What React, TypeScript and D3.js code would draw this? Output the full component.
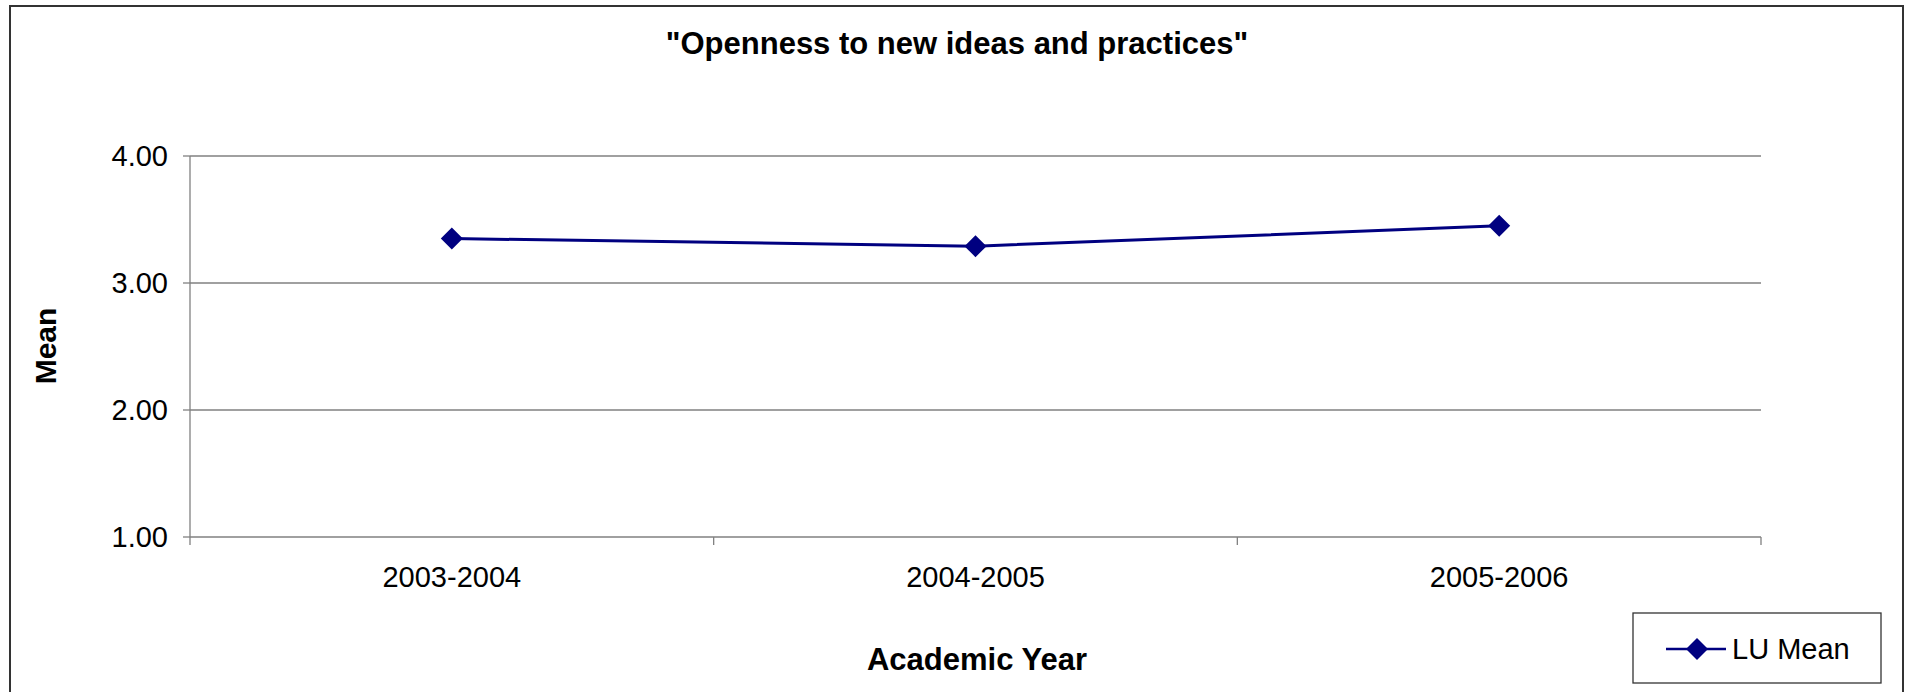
import React from "react";
import * as d3 from "d3";

const categories = ["2003-2004", "2004-2005", "2005-2006"];
const luMean = [3.35, 3.29, 3.45];
const yTicks = [1, 2, 3, 4];
const title = "\"Openness to new ideas and practices\"";
const xTitle = "Academic Year";
const yTitle = "Mean";
const seriesName = "LU Mean";

export default function App() {
  const W = 1913, H = 692;
  const left = 190, right = 1761, top = 156, bottom = 537;
  const x = d3.scaleBand<string>().domain(categories).range([left, right]);
  const y = d3.scaleLinear().domain([1, 4]).range([bottom, top]);
  const line = d3.line<number>()
    .x((_, i) => (x(categories[i]) as number) + x.bandwidth() / 2)
    .y((d) => y(d));
  const font = "'Liberation Sans', Arial, sans-serif";
  const navy = "#000080";
  const diamond = (cx: number, cy: number, r: number) =>
    `M${cx},${cy - r}L${cx + r},${cy}L${cx},${cy + r}L${cx - r},${cy}Z`;
  const boundaries = [...categories.map((c) => x(c) as number), right];
  return (
    <svg width={W} height={H} style={{ position: "absolute", left: 0, top: 0 }} fontFamily={font}>
      <rect x={0} y={0} width={W} height={H} fill="#fff" />
      <rect x={10} y={6} width={1893} height={720} fill="none" stroke="#333" strokeWidth={2} />
      <text x={957} y={54} textAnchor="middle" fontSize={31} fontWeight="bold">{title}</text>
      {yTicks.map((t) => (
        <g key={t}>
          <line x1={left} x2={right} y1={y(t)} y2={y(t)} stroke="#808080" strokeWidth={1.3} />
          <line x1={left - 7} x2={left} y1={y(t)} y2={y(t)} stroke="#808080" strokeWidth={1.3} />
          <text x={168} y={y(t) + 10} textAnchor="end" fontSize={29}>{t.toFixed(2)}</text>
        </g>
      ))}
      <line x1={left} x2={left} y1={top} y2={bottom} stroke="#808080" strokeWidth={1.3} />
      {boundaries.map((b, i) => (
        <line key={i} x1={b} x2={b} y1={bottom} y2={bottom + 8} stroke="#808080" strokeWidth={1.3} />
      ))}
      {categories.map((c) => (
        <text key={c} x={(x(c) as number) + x.bandwidth() / 2} y={587} textAnchor="middle" fontSize={29}>{c}</text>
      ))}
      <text x={977} y={670} textAnchor="middle" fontSize={31} fontWeight="bold">{xTitle}</text>
      <text transform={`translate(56,346) rotate(-90)`} textAnchor="middle" fontSize={30} fontWeight="bold">{yTitle}</text>
      <path d={line(luMean) || ""} fill="none" stroke={navy} strokeWidth={3} />
      {luMean.map((v, i) => (
        <path key={i} d={diamond((x(categories[i]) as number) + x.bandwidth() / 2, y(v), 11)} fill={navy} />
      ))}
      <rect x={1633} y={613} width={248} height={70} fill="#fff" stroke="#333" strokeWidth={1.3} />
      <line x1={1666} x2={1726} y1={649} y2={649} stroke={navy} strokeWidth={2.5} />
      <path d={diamond(1697, 649, 11)} fill={navy} />
      <text x={1732} y={659} fontSize={29}>{seriesName}</text>
    </svg>
  );
}
